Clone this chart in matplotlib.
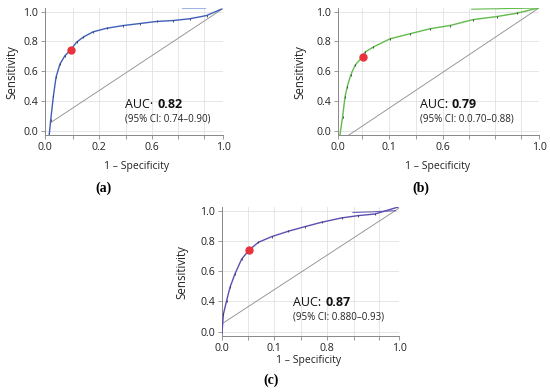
import matplotlib
matplotlib.use("Agg")
import matplotlib.pyplot as plt

plt.rcParams['font.family'] = ['Open Sans', 'DejaVu Sans']

# ROC curves (plot coordinates)
roc_a_x = [0.024, 0.032, 0.047, 0.062, 0.084, 0.112, 0.144, 0.178, 0.215, 0.27, 0.346,
           0.44, 0.534, 0.627, 0.72, 0.815, 0.908, 0.99]
roc_a_y = [-0.03, 0.09, 0.29, 0.45, 0.56, 0.63, 0.68, 0.744, 0.786, 0.83, 0.86,
           0.883, 0.90, 0.917, 0.925, 0.94, 0.967, 1.02]
roc_b_x = [0.01, 0.023, 0.035, 0.046, 0.063, 0.085, 0.121, 0.134, 0.176, 0.259, 0.358,
           0.458, 0.557, 0.673, 0.789, 0.889, 0.997]
roc_b_y = [-0.03, 0.12, 0.286, 0.37, 0.467, 0.55, 0.62, 0.66, 0.703, 0.772, 0.814,
           0.856, 0.883, 0.933, 0.958, 0.986, 1.03]
roc_c_x = [0.0, 0.008, 0.026, 0.045, 0.073, 0.111, 0.153, 0.205, 0.28, 0.375, 0.469,
           0.563, 0.676, 0.77, 0.864, 0.996]
roc_c_y = [-0.005, 0.146, 0.256, 0.366, 0.477, 0.6, 0.675, 0.738, 0.785, 0.83, 0.868,
           0.904, 0.94, 0.959, 0.972, 1.03]

# extra upper segments
top_a_x = [0.77, 0.9]
top_a_y = [1.03, 1.03]
top_b_x = [0.665, 1.0]
top_b_y = [1.02, 1.03]
top_c_x = [0.74, 0.85, 0.98]
top_c_y = [0.985, 0.99, 1.0]

# reference diagonals
diag_a = ([0.03, 1.0], [0.067, 1.025])
diag_b = ([0.05, 1.0], [-0.04, 1.03])
diag_c = ([0.0, 1.0], [0.066, 1.02])

# cut-off points
cut_a = (0.144, 0.68)
cut_b = (0.123, 0.62)
cut_c = (0.154, 0.675)

auc_values = ['0.82', '0.79', '0.87']
auc_prefix = ['AUC\u00b7', 'AUC:', 'AUC:']
ci_texts = ['(95% CI: 0.74\u20130.90)', '(95% CI: 0.0.70\u20130.88)', '(95% CI: 0.880\u20130.93)']
panel_names = ['(a)', '(b)', '(c)']

y_ticks = [0.0, 0.25, 0.5, 0.75, 1.0]
y_labels = ['0.0', '0.4', '0.6', '0.8', '1.0']

grid_a = [0.155, 0.305, 0.455, 0.6, 0.748, 0.893]
xlab_a = ['', '0.2', '', '0.6', '', '']
grid_b = [0.12, 0.255, 0.39, 0.52, 0.65, 0.78, 0.91]
xlab_b = ['', '0.1', '', '0.6', '', '', '']
grid_c = [0.146, 0.296, 0.447, 0.592, 0.743, 0.889]
xlab_c = ['', '0.1', '', '0.8', '', '']

W, H = 550, 392


def px(x, y):
    return x / W, 1 - y / H


fig = plt.figure(figsize=(5.5, 3.92), dpi=100)

panels = [
    dict(rect=(45, 8, 223, 135), x=roc_a_x, y=roc_a_y, top=(top_a_x, top_a_y), diag=diag_a,
         cut=cut_a, grid=grid_a, xlab=xlab_a, color='#3f5fb8', topc='#9fb6e6',
         auc=(125, 104), ylab=(12, 72), xl=(137, 167), name=(104, 188)),
    dict(rect=(338, 8, 539, 135), x=roc_b_x, y=roc_b_y, top=(top_b_x, top_b_y), diag=diag_b,
         cut=cut_b, grid=grid_b, xlab=xlab_b, color='#62bb4a', topc='#62bb4a',
         auc=(420, 104), ylab=(300, 72), xl=(438, 167), name=(421, 188)),
    dict(rect=(222, 207, 399, 336), x=roc_c_x, y=roc_c_y, top=(top_c_x, top_c_y), diag=diag_c,
         cut=cut_c, grid=grid_c, xlab=xlab_c, color='#5a4fb0', topc='#6a5fb8',
         auc=(293, 302), ylab=(182, 272), xl=(309, 361), name=(271, 380)),
]

for i, p in enumerate(panels):
    l, t, r, b = p['rect']
    ax = fig.add_axes([l / W, 1 - b / H, (r - l) / W, (b - t) / H])
    ax.set_xlim(0, 1)
    ax.set_ylim(-0.035, 1.03)

    ax.plot(p['diag'][0], p['diag'][1], color='#8a8a8a', lw=0.6, zorder=2)
    ax.plot(p['top'][0], p['top'][1], color=p['topc'], lw=0.8, zorder=3)
    ax.plot(p['x'], p['y'], color=p['color'], lw=1.0, zorder=4)
    ax.plot(p['x'][1:-1], p['y'][1:-1], ls='none', marker='|', ms=1.8, mew=0.6,
            color='#333344', zorder=5)
    ax.plot([p['cut'][0]], [p['cut'][1]], 'o', color='#e8323c', ms=5, zorder=6)

    xt = [0.0] + p['grid'] + [1.0]
    ax.set_xticks(xt)
    ax.set_xticklabels(['0.0'] + p['xlab'] + ['1.0'])
    ax.set_yticks(y_ticks)
    ax.set_yticklabels(y_labels)
    ax.grid(True, color='#e2e2e2', lw=0.6)
    ax.set_axisbelow(True)
    for s in ['top', 'right']:
        ax.spines[s].set_visible(False)
    for s in ['left', 'bottom']:
        ax.spines[s].set_color('#888888')
        ax.spines[s].set_linewidth(0.7)
    ax.tick_params(labelsize=7.6, colors='#888888', labelcolor='#222222', length=3, width=0.6, pad=2)

    ax_x, ax_y = p['auc']
    fig.text(*px(ax_x, ax_y), auc_prefix[i], fontsize=9, va='center', ha='left', color='#111111')
    fig.text(*px(ax_x + 32, ax_y), auc_values[i], fontsize=9, fontweight='bold',
             va='center', ha='left', color='#111111')
    fig.text(*px(ax_x, ax_y + 15), ci_texts[i], fontsize=7, va='center', ha='left', color='#222222')

    fig.text(*px(*p['ylab']), 'Sensitivity', rotation=90, fontsize=8.3, va='center', ha='center',
             color='#222222')
    fig.text(*px(*p['xl']), '1 \u2013 Specificity', fontsize=7.5, va='center', ha='center',
             color='#222222')
    fig.text(*px(*p['name']), panel_names[i], fontsize=10, fontweight='bold', va='center',
             ha='center', family='Liberation Serif')

fig.savefig('out.png', dpi=100)
